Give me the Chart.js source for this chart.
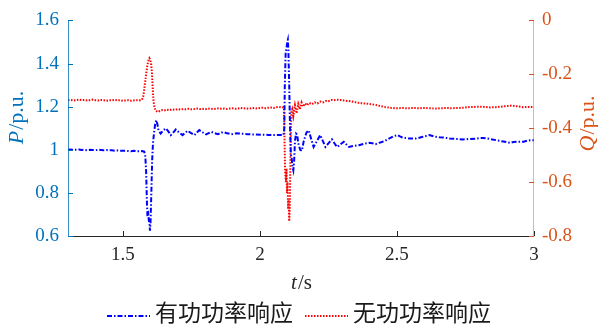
<!DOCTYPE html>
<html>
<head>
<meta charset="utf-8">
<script src="https://cdn.jsdelivr.net/npm/chart.js@4.4.1/dist/chart.umd.min.js"></script>
<style>
html, body { margin: 0; padding: 0; background: #fff; }
</style>
</head>
<body>
<canvas id="lineChart" width="598" height="326"></canvas>
<script>
"use strict";

// active power P (p.u.)
var tP = [1.30, 1.31, 1.32, 1.33, 1.34, 1.35, 1.36, 1.37, 1.38, 1.39, 1.40, 1.41, 1.42, 1.43, 1.44, 1.45, 1.46, 1.47, 1.48, 1.49,
	1.50, 1.51, 1.52, 1.53, 1.54, 1.55, 1.56, 1.57, 1.578, 1.582, 1.585, 1.588, 1.590, 1.593, 1.595, 1.597, 1.599, 1.601, 1.604, 1.607,
	1.610, 1.614, 1.618, 1.622, 1.626, 1.630, 1.638, 1.647, 1.657, 1.666, 1.675, 1.684, 1.693, 1.705, 1.718, 1.727, 1.736, 1.748, 1.761, 1.770,
	1.779, 1.792, 1.804, 1.813, 1.822, 1.835, 1.847, 1.856, 1.865, 1.880, 1.896, 1.914, 1.932, 1.955, 1.981, 2.005, 2.031, 2.055, 2.079, 2.086,
	2.089, 2.091, 2.094, 2.097, 2.100, 2.102, 2.104, 2.107, 2.110, 2.113, 2.116, 2.119, 2.122, 2.125, 2.128, 2.132, 2.136, 2.140, 2.147, 2.153,
	2.160, 2.170, 2.178, 2.186, 2.196, 2.208, 2.220, 2.230, 2.239, 2.250, 2.263, 2.272, 2.282, 2.294, 2.306, 2.316, 2.325, 2.343, 2.361, 2.380,
	2.398, 2.410, 2.422, 2.435, 2.447, 2.460, 2.471, 2.486, 2.502, 2.511, 2.520, 2.533, 2.545, 2.557, 2.569, 2.582, 2.594, 2.606, 2.618, 2.630,
	2.643, 2.655, 2.667, 2.680, 2.692, 2.716, 2.741, 2.765, 2.790, 2.803, 2.815, 2.840, 2.864, 2.889, 2.913, 2.925, 2.937, 2.950, 2.962, 2.975,
	2.986, 3.000];
var P = [1.000, 1.001, 0.999, 1.000, 1.001, 0.999, 1.000, 0.998, 1.000, 0.999, 0.998, 1.000, 0.999, 0.998, 0.999, 0.997, 0.998, 0.996, 0.997, 0.996,
	0.995, 0.996, 0.994, 0.993, 0.995, 0.994, 0.993, 0.994, 0.992, 0.97, 0.90, 0.75, 0.69, 0.70, 0.67, 0.66, 0.625, 0.66, 0.80, 0.95,
	1.03, 1.08, 1.12, 1.137, 1.12, 1.09, 1.075, 1.09, 1.099, 1.085, 1.068, 1.08, 1.094, 1.08, 1.068, 1.078, 1.088, 1.078, 1.068, 1.08,
	1.091, 1.08, 1.071, 1.077, 1.083, 1.077, 1.072, 1.077, 1.082, 1.077, 1.072, 1.076, 1.075, 1.072, 1.071, 1.070, 1.069, 1.068, 1.069, 1.068,
	1.10, 1.30, 1.45, 1.47, 1.50, 1.51, 1.46, 1.30, 1.10, 0.98, 0.96, 0.92, 0.905, 0.95, 1.04, 1.075, 1.07, 1.03, 1.00, 0.995,
	1.04, 1.08, 1.09, 1.055, 1.013, 1.04, 1.068, 1.04, 1.013, 1.03, 1.048, 1.03, 1.013, 1.025, 1.037, 1.024, 1.013, 1.018, 1.021, 1.028,
	1.032, 1.030, 1.026, 1.032, 1.037, 1.044, 1.052, 1.062, 1.068, 1.062, 1.057, 1.054, 1.052, 1.052, 1.052, 1.056, 1.060, 1.064, 1.068, 1.064,
	1.060, 1.058, 1.057, 1.055, 1.052, 1.050, 1.048, 1.050, 1.052, 1.054, 1.055, 1.050, 1.044, 1.038, 1.032, 1.036, 1.037, 1.037, 1.037, 1.042,
	1.044, 1.044];

// reactive power Q (p.u.)
var tQ = [1.30, 1.31, 1.32, 1.33, 1.34, 1.35, 1.36, 1.37, 1.38, 1.39, 1.40, 1.41, 1.42, 1.43, 1.44, 1.45, 1.46, 1.47, 1.48, 1.49,
	1.50, 1.51, 1.52, 1.53, 1.54, 1.55, 1.56, 1.57, 1.575, 1.580, 1.585, 1.589, 1.593, 1.597, 1.600, 1.603, 1.606, 1.609, 1.612, 1.616,
	1.620, 1.627, 1.635, 1.643, 1.65, 1.66, 1.67, 1.68, 1.69, 1.70, 1.71, 1.72, 1.73, 1.74, 1.75, 1.76, 1.77, 1.78, 1.79, 1.80,
	1.81, 1.82, 1.83, 1.84, 1.85, 1.86, 1.87, 1.88, 1.89, 1.90, 1.91, 1.92, 1.93, 1.94, 1.95, 1.96, 1.97, 1.98, 1.99, 2.00,
	2.01, 2.02, 2.03, 2.04, 2.05, 2.06, 2.07, 2.08, 2.086, 2.088, 2.090, 2.092, 2.095, 2.097, 2.099, 2.101, 2.103, 2.105, 2.107, 2.109,
	2.111, 2.113, 2.115, 2.118, 2.122, 2.128, 2.134, 2.140, 2.146, 2.152, 2.158, 2.165, 2.172, 2.180, 2.19, 2.20, 2.21, 2.22, 2.23, 2.24,
	2.25, 2.26, 2.27, 2.28, 2.29, 2.30, 2.31, 2.32, 2.33, 2.34, 2.35, 2.36, 2.37, 2.38, 2.39, 2.40, 2.42, 2.44, 2.46, 2.48,
	2.50, 2.52, 2.54, 2.56, 2.58, 2.60, 2.62, 2.64, 2.66, 2.68, 2.70, 2.72, 2.74, 2.76, 2.78, 2.80, 2.82, 2.84, 2.86, 2.88,
	2.90, 2.92, 2.94, 2.96, 2.98, 3.00];
var Q = [-0.296, -0.295, -0.297, -0.296, -0.294, -0.296, -0.295, -0.297, -0.296, -0.294, -0.296, -0.297, -0.295, -0.296, -0.298, -0.296, -0.297, -0.295, -0.297, -0.296,
	-0.298, -0.297, -0.296, -0.298, -0.297, -0.296, -0.297, -0.294, -0.28, -0.24, -0.20, -0.17, -0.15, -0.14, -0.145, -0.16, -0.19, -0.25, -0.30, -0.325,
	-0.335, -0.34, -0.336, -0.333, -0.335, -0.331, -0.333, -0.330, -0.332, -0.329, -0.331, -0.329, -0.330, -0.328, -0.330, -0.329, -0.327, -0.329, -0.328, -0.330,
	-0.328, -0.327, -0.329, -0.328, -0.326, -0.328, -0.327, -0.329, -0.327, -0.326, -0.328, -0.327, -0.325, -0.327, -0.326, -0.328, -0.326, -0.325, -0.327, -0.325,
	-0.324, -0.326, -0.324, -0.323, -0.325, -0.322, -0.321, -0.323, -0.322, -0.33, -0.45, -0.56, -0.60, -0.55, -0.64, -0.60, -0.70, -0.66, -0.745, -0.70,
	-0.55, -0.42, -0.34, -0.33, -0.355, -0.315, -0.345, -0.31, -0.33, -0.305, -0.32, -0.308, -0.315, -0.306, -0.311, -0.304, -0.308, -0.301, -0.304, -0.299,
	-0.300, -0.295, -0.296, -0.294, -0.295, -0.296, -0.298, -0.299, -0.300, -0.302, -0.304, -0.306, -0.307, -0.308, -0.309, -0.310, -0.313, -0.318, -0.322, -0.325,
	-0.326, -0.325, -0.326, -0.325, -0.326, -0.325, -0.326, -0.327, -0.326, -0.325, -0.326, -0.325, -0.324, -0.322, -0.321, -0.320, -0.321, -0.323, -0.322, -0.320,
	-0.318, -0.316, -0.319, -0.322, -0.321, -0.322];

var xTicks = [1.5, 2, 2.5, 3];
var pTicks = [0.6, 0.8, 1, 1.2, 1.4, 1.6];
var qTicks = [-0.8, -0.6, -0.4, -0.2, 0];
var seriesNames = ['有功功率响应', '无功功率响应'];

var blueAxis = '#0072BD';
var orangeAxis = '#D95319';
var serif = "'Liberation Serif', 'Times New Roman', serif";

function ToPoints(ts, vs) {
	return ts.map(function (t, i) {
		return { x: t, y: vs[i] };
	});
}

function SetTicks(values) {
	return function (scale) {
		scale.ticks = values.map(function (v) { return { value: v }; });
	};
}

// draws part-italic text like "P/p.u."
function DrawMixedText(ctx, italicPart, normalPart, size) {
	var fItalic = 'italic ' + size + 'px ' + serif;
	var fNormal = size + 'px ' + serif;
	ctx.font = fItalic;
	var w1 = ctx.measureText(italicPart).width;
	ctx.font = fNormal;
	var w2 = ctx.measureText(normalPart).width;
	var x0 = -(w1 + w2) / 2;
	ctx.textAlign = 'left';
	ctx.textBaseline = 'middle';
	ctx.font = fItalic;
	ctx.fillText(italicPart, x0, 0);
	ctx.font = fNormal;
	ctx.fillText(normalPart, x0 + w1 + 1, 0);
}

var axisDecor = {
	id: 'axisDecor',
	afterDraw: function (chart) {
		var ctx = chart.ctx;
		var area = chart.chartArea;
		var sx = chart.scales.x, sp = chart.scales.yP, sq = chart.scales.yQ;
		ctx.save();
		ctx.lineWidth = 1;

		// axis lines
		ctx.strokeStyle = '#262626';
		ctx.beginPath();
		ctx.moveTo(area.left, area.bottom + 0.5);
		ctx.lineTo(area.right, area.bottom + 0.5);
		ctx.stroke();

		ctx.strokeStyle = 'rgba(0, 114, 189, 0.8)';
		ctx.beginPath();
		ctx.moveTo(area.left + 0.5, area.top);
		ctx.lineTo(area.left + 0.5, area.bottom + 1);
		ctx.stroke();

		ctx.strokeStyle = 'rgba(217, 83, 25, 0.45)';
		ctx.beginPath();
		ctx.moveTo(area.right - 0.5, area.top);
		ctx.lineTo(area.right - 0.5, area.bottom + 1);
		ctx.stroke();

		// inward tick marks
		ctx.strokeStyle = '#262626';
		xTicks.forEach(function (v) {
			var px = Math.round(sx.getPixelForValue(v)) + 0.5;
			ctx.beginPath();
			ctx.moveTo(px, area.bottom);
			ctx.lineTo(px, area.bottom - 5);
			ctx.stroke();
		});
		ctx.strokeStyle = blueAxis;
		pTicks.forEach(function (v) {
			var py = Math.round(sp.getPixelForValue(v)) + 0.5;
			ctx.beginPath();
			ctx.moveTo(area.left, py);
			ctx.lineTo(area.left + 5, py);
			ctx.stroke();
		});
		ctx.strokeStyle = orangeAxis;
		qTicks.forEach(function (v) {
			var py = Math.round(sq.getPixelForValue(v)) + 0.5;
			ctx.beginPath();
			ctx.moveTo(area.right, py);
			ctx.lineTo(area.right - 5, py);
			ctx.stroke();
		});

		// axis titles
		ctx.fillStyle = '#262626';
		ctx.save();
		ctx.translate((area.left + area.right) / 2, 283);
		DrawMixedText(ctx, 't', '/s', 21);
		ctx.restore();

		ctx.fillStyle = blueAxis;
		ctx.save();
		ctx.translate(17, 118);
		ctx.rotate(-Math.PI / 2);
		DrawMixedText(ctx, 'P', '/p.u.', 22);
		ctx.restore();

		ctx.fillStyle = orangeAxis;
		ctx.save();
		ctx.translate(588, 124);
		ctx.rotate(-Math.PI / 2);
		DrawMixedText(ctx, 'Q', '/p.u.', 22);
		ctx.restore();

		// legend
		var legendY = 316;
		var items = [
			{ x: 107, color: '#0000FF', dash: [5, 2, 1.5, 2] },
			{ x: 305, color: '#FF0000', dash: [1.5, 1.5] }
		];
		ctx.font = "23px " + serif + ", 'Noto Sans CJK SC'";
		ctx.textAlign = 'left';
		ctx.textBaseline = 'middle';
		items.forEach(function (item, i) {
			ctx.strokeStyle = item.color;
			ctx.lineWidth = 2;
			ctx.setLineDash(item.dash);
			ctx.beginPath();
			ctx.moveTo(item.x, legendY);
			ctx.lineTo(item.x + 43, legendY);
			ctx.stroke();
			ctx.setLineDash([]);
			ctx.fillStyle = '#1a1a1a';
			ctx.fillText(seriesNames[i], item.x + 48, legendY - 1);
		});
		ctx.restore();
	}
};

const context = document.getElementById('lineChart');
const myChart = new Chart(context, {
	type: 'line',
	data: {
		datasets: [{
			label: seriesNames[0],
			data: ToPoints(tP, P),
			yAxisID: 'yP',
			borderColor: '#0000FF',
			borderWidth: 2,
			borderDash: [5, 2, 1.5, 2],
			pointRadius: 0,
			tension: 0
		}, {
			label: seriesNames[1],
			data: ToPoints(tQ, Q),
			yAxisID: 'yQ',
			borderColor: '#FF0000',
			borderWidth: 2,
			borderDash: [1.5, 1.5],
			pointRadius: 0,
			tension: 0
		}]
	},
	plugins: [axisDecor],
	options: {
		responsive: false,
		animation: false,
		devicePixelRatio: 1,
		events: [],
		layout: {
			padding: { top: 20, left: 0, right: 0, bottom: 0 }
		},
		plugins: {
			legend: { display: false },
			tooltip: { enabled: false }
		},
		scales: {
			x: {
				type: 'linear',
				min: 1.3,
				max: 3,
				afterBuildTicks: SetTicks(xTicks),
				afterFit: function (scale) { scale.height = 90; },
				grid: { display: false, drawTicks: false },
				border: { display: false },
				ticks: {
					color: '#262626',
					font: { family: serif, size: 19 },
					padding: 8,
					maxRotation: 0,
					callback: function (value) { return String(value); }
				}
			},
			yP: {
				type: 'linear',
				position: 'left',
				min: 0.6,
				max: 1.6,
				afterBuildTicks: SetTicks(pTicks),
				afterFit: function (scale) { scale.width = 68; },
				grid: { display: false, drawTicks: false },
				border: { display: false },
				ticks: {
					color: blueAxis,
					font: { family: serif, size: 19 },
					padding: 9,
					callback: function (value) { return String(value); }
				}
			},
			yQ: {
				type: 'linear',
				position: 'right',
				min: -0.8,
				max: 0,
				afterBuildTicks: SetTicks(qTicks),
				afterFit: function (scale) { scale.width = 64; },
				grid: { display: false, drawTicks: false },
				border: { display: false },
				ticks: {
					color: orangeAxis,
					font: { family: serif, size: 19 },
					padding: 8,
					callback: function (value) { return String(value); }
				}
			}
		}
	}
});
</script>
</body>
</html>
